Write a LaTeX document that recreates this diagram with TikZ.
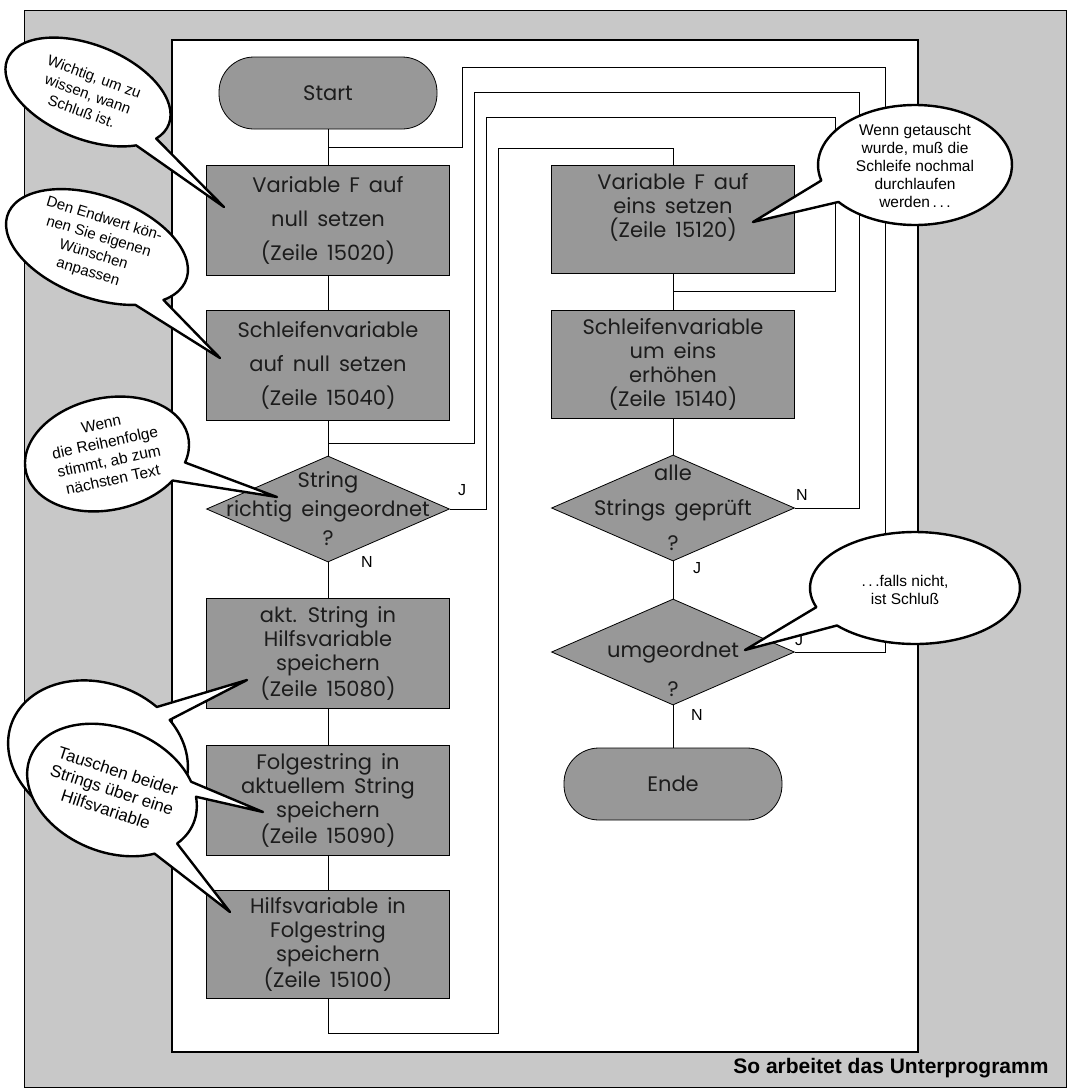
\documentclass[tikz,border=0pt]{standalone}
\usepackage{fontspec}
\setmainfont{Liberation Sans}
\newfontfamily\boxfont{Poppins}[WordSpace=1.6]
\usetikzlibrary{shapes.geometric,calc}
\definecolor{margingray}{RGB}{200,200,200}
\definecolor{boxgray}{RGB}{152,152,152}
\definecolor{inkgray}{RGB}{28,28,28}
\tikzset{
  stepbox/.style={draw, line width=0.8pt, fill=boxgray, minimum width=243pt,
    minimum height=110pt, inner sep=0pt, align=center, text=inkgray,
    font=\boxfont\fontsize{21}{24}\selectfont},
  stepwide/.style={font=\boxfont\fontsize{21}{34}\selectfont},
  pill/.style={draw, line width=0.8pt, fill=boxgray, rounded corners=35pt,
    minimum width=218pt, minimum height=72pt, text=inkgray,
    font=\boxfont\fontsize{21}{24}\selectfont},
  decision/.style={diamond, draw, line width=0.8pt, fill=boxgray,
    minimum width=243pt, minimum height=106pt, inner sep=0pt},
  dtext/.style={align=center, text=inkgray, inner sep=0pt,
    font=\boxfont\fontsize{21}{29}\selectfont},
  flow/.style={line width=0.8pt},
  yn/.style={font=\fontsize{16}{18}\selectfont},
  bubble/.style={draw, line width=2.4pt, fill=white, line join=round},
  btext/.style={align=center, inner sep=0pt, font=\fontsize{15.5}{18}\selectfont},
  bleft/.style={btext, font=\fontsize{16}{19.5}\selectfont}
}

\begin{document}
\begin{tikzpicture}[x=1pt, y=1pt]
  \useasboundingbox (0,0) rectangle (1070,-1090);
  % background and panel
  \draw[line width=0.6pt, fill=margingray] (24,-10) rectangle (1066,-1087);
  \draw[line width=1.3pt, fill=white] (172,-40) rectangle (918,-1052);

  % left column
  \node[pill] (start) at (328,-93) {Start};
  \node[stepbox, stepwide] (fnull) at (328,-220) {Variable F auf\\null setzen\\(Zeile 15020)};
  \node[stepbox, stepwide] (snull) at (328,-365) {Schleifenvariable\\auf null setzen\\(Zeile 15040)};
  \node[decision] (drichtig) at (328,-509) {};
  \node[dtext] (trichtig) at (drichtig) {String\\richtig eingeordnet\\?};
  \node[stepbox] (akt) at (328,-653) {akt. String in\\Hilfsvariable\\speichern\\(Zeile 15080)};
  \node[stepbox] (folge) at (328,-800) {Folgestring in\\aktuellem String\\speichern\\(Zeile 15090)};
  \node[stepbox, minimum height=108pt] (hilf) at (328,-944) {Hilfsvariable in\\Folgestring\\speichern\\(Zeile 15100)};

  % right column
  \node[stepbox, minimum height=108pt, text depth=28pt] (feins) at (673,-219) {Variable F auf\\eins setzen\\(Zeile 15120)};
  \node[stepbox, minimum height=108pt] (serh) at (673,-364) {Schleifenvariable\\um eins\\erh\"ohen\\(Zeile 15140)};
  \node[decision] (dalle) at (673,-508) {};
  \node[dtext, font=\boxfont\fontsize{21}{35}\selectfont] (talle) at (dalle) {alle\\Strings gepr\"uft\\?};
  \node[decision] (dumg) at (673,-652) {};
  \node[dtext, font=\boxfont\fontsize{21}{39}\selectfont, yshift=-17pt] (tumg) at (dumg) {umgeordnet\\?};
  \node[pill] (ende) at (673,-784) {Ende};

  % straight connectors
  \draw[flow] (start) -- (fnull);
  \draw[flow] (fnull) -- (snull);
  \draw[flow] (snull) -- (drichtig);
  \draw[flow] (drichtig) -- (akt);
  \draw[flow] (akt) -- (folge);
  \draw[flow] (folge) -- (hilf);
  \draw[flow] (feins) -- (serh);
  \draw[flow] (serh) -- (dalle);
  \draw[flow] (dalle) -- (dumg);
  \draw[flow] (dumg) -- (ende);

  % loops
  \coordinate (jstart) at (328,-147);
  \coordinate (jrichtig) at (328,-443);
  \coordinate (jerh) at (673,-291);
  \draw[flow] (dumg.east) -| (885,-67) -| (462,-147) -- (jstart);
  \draw[flow] (dalle.east) -| (859,-92) -| (474,-443) -- (jrichtig);
  \draw[flow] (drichtig.east) -| (486,-117) -| (835,-291) -- (jerh);
  \draw[flow] (hilf.south) |- (498,-1033) |- (673,-148) -- (feins.north);

  \node[yn] (jlab1) at (462,-490) {J};
  \node[yn] (nlab1) at (367,-562) {N};
  \node[yn] (nlab2) at (802,-495) {N};
  \node[yn] (jlab2) at (697,-568) {J};
  \node[yn] (jlab3) at (799,-640) {J};
  \node[yn] (nlab3) at (697,-715) {N};

  % callouts
  \coordinate (tipA) at (224,-207);
  \begin{scope}[shift={(88,-92)}, rotate=-22]
    \draw[bubble] (-22:87 and 47) arc[start angle=-22, end angle=318, x radius=87, y radius=47] -- (tipA) -- cycle;
  \end{scope}
  \node[bleft, rotate=-20, font=\fontsize{15}{18.5}\selectfont] (txtA) at (88,-94) {Wichtig, um zu\\wissen, wann\\Schlu\ss{} ist.};

  \coordinate (tipB) at (220,-358);
  \begin{scope}[shift={(97,-247)}, rotate=-20]
    \draw[bubble] (-32:95 and 51) arc[start angle=-32, end angle=306, x radius=95, y radius=51] -- (tipB) -- cycle;
  \end{scope}
  \node[bleft, rotate=-17, font=\fontsize{15}{18.5}\selectfont] (txtB) at (96,-246) {Den Endwert k\"on-\\nen Sie eigenen\\W\"unschen\\anpassen};

  \coordinate (tipC) at (277,-497);
  \begin{scope}[shift={(107,-454)}, rotate=12]
    \draw[bubble] (-26:83 and 56) arc[start angle=-26, end angle=315, x radius=83, y radius=56] -- (tipC) -- cycle;
  \end{scope}
  \node[bleft, rotate=12, font=\fontsize{15.5}{19}\selectfont] (txtC) at (107,-452) {Wenn\\die Reihenfolge\\stimmt, ab zum\\n\"achsten Text};

  \coordinate (tipD1) at (247,-680);
  \coordinate (tipD2) at (263,-812);
  \coordinate (tipD3) at (230,-912);
  \begin{scope}[shift={(98,-755)}, rotate=-20]
    \draw[bubble] (65:92 and 72) arc[start angle=65, end angle=413, x radius=92, y radius=72] -- (tipD1) -- cycle;
  \end{scope}
  \begin{scope}[shift={(112,-790)}, rotate=-22]
    \draw[bubble] (37:88 and 62) arc[start angle=37, end angle=316, x radius=88, y radius=62] -- (tipD3)
      -- (-24:88 and 62) arc[start angle=-24, end angle=24, x radius=88, y radius=62] -- (tipD2) -- cycle;
  \end{scope}
  \node[bleft, rotate=-18, font=\fontsize{17}{20}\selectfont] (txtD) at (112,-790) {Tauschen beider\\Strings \"uber eine\\Hilfsvariable};

  \coordinate (tipE) at (753,-222);
  \begin{scope}[shift={(915,-165)}]
    \draw[bubble] (218:97 and 60) arc[start angle=218, end angle=555, x radius=97, y radius=60] -- (tipE) -- cycle;
  \end{scope}
  \node[btext] (txtE) at (915,-166) {Wenn getauscht\\wurde, mu\ss{} die\\Schleife nochmal\\durchlaufen\\werden\,.\,.\,.};

  \coordinate (tipF) at (745,-650);
  \begin{scope}[shift={(915,-588)}]
    \draw[bubble] (222:105 and 56) arc[start angle=222, end angle=560, x radius=105, y radius=56] -- (tipF) -- cycle;
  \end{scope}
  \node[btext] (txtF) at (905,-590) {.\,.\,.falls nicht,\\ist Schlu\ss};

  \node[anchor=east, font=\bfseries\fontsize{21}{24}\selectfont] (caption) at (1052,-1068) {So arbeitet das Unterprogramm};
\end{tikzpicture}
\end{document}
